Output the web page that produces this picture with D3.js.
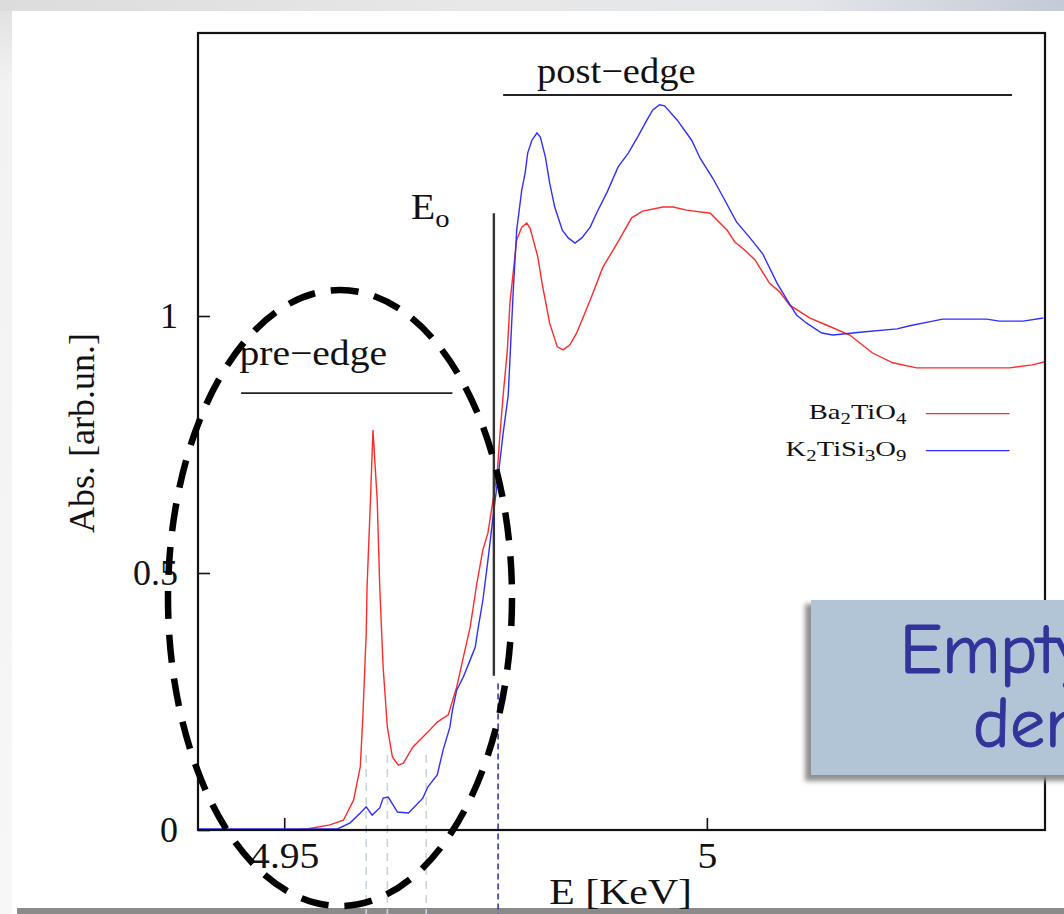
<!DOCTYPE html>
<html>
<head>
<meta charset="utf-8">
<script src="https://cdn.jsdelivr.net/npm/d3@7/dist/d3.min.js"></script>
<style>
  html, body { margin: 0; padding: 0; background: #fff; }
  svg { display: block; }
</style>
</head>
<body>
<svg id="chart" width="1064" height="914"></svg>
<script>
// X-ray absorption near the Ti K edge: two titanates
const redEnergy = [4.9398,4.9519,4.9527,4.9554,4.9570,4.9582,4.9590,4.9593,4.9597,4.9598,4.9602,4.9605,4.9610,4.9613,4.9617,4.9622,4.9628,4.9635,4.9641,4.9652,4.9669,4.9681,4.9694,4.9704,4.9712,4.9720,4.9728,4.9735,4.9741,4.9747,4.9752,4.9755,4.9759,4.9764,4.9767,4.9775,4.9781,4.9787,4.9791,4.9800,4.9805,4.9814,4.9823,4.9830,4.9838,4.9846,4.9862,4.9877,4.9894,4.9911,4.9924,4.9948,4.9960,4.9976,5.0004,5.0024,5.0033,5.0045,5.0057,5.0074,5.0086,5.0098,5.0122,5.0142,5.0169,5.0196,5.0220,5.0248,5.0358,5.0385,5.0400];
const redAbs = [0.000,0.001,0.002,0.010,0.019,0.058,0.123,0.220,0.383,0.473,0.642,0.778,0.642,0.473,0.317,0.200,0.142,0.126,0.130,0.161,0.189,0.210,0.224,0.278,0.337,0.395,0.481,0.545,0.578,0.642,0.695,0.765,0.846,0.934,1.025,1.148,1.173,1.181,1.170,1.115,1.064,0.986,0.940,0.934,0.944,0.967,1.031,1.095,1.142,1.191,1.204,1.212,1.212,1.206,1.200,1.167,1.144,1.128,1.109,1.064,1.047,1.021,0.996,0.982,0.963,0.928,0.909,0.899,0.899,0.905,0.911];

const blueEnergy = [4.9398,4.9563,4.9578,4.9590,4.9597,4.9604,4.9613,4.9617,4.9623,4.9634,4.9647,4.9664,4.9670,4.9681,4.9688,4.9696,4.9699,4.9704,4.9712,4.9720,4.9726,4.9729,4.9735,4.9741,4.9747,4.9753,4.9759,4.9765,4.9771,4.9775,4.9781,4.9785,4.9788,4.9793,4.9799,4.9803,4.9809,4.9814,4.9820,4.9829,4.9836,4.9844,4.9852,4.9862,4.9870,4.9882,4.9895,4.9907,4.9918,4.9929,4.9936,4.9944,4.9950,4.9965,4.9982,4.9992,5.0007,5.0019,5.0035,5.0051,5.0066,5.0083,5.0095,5.0106,5.0118,5.0136,5.0149,5.0161,5.0184,5.0225,5.0240,5.0267,5.0279,5.0331,5.0346,5.0374,5.0398];
const blueAbs = [0.002,0.002,0.014,0.033,0.045,0.029,0.043,0.062,0.064,0.035,0.033,0.062,0.084,0.107,0.156,0.200,0.233,0.272,0.298,0.331,0.356,0.389,0.447,0.525,0.609,0.687,0.772,0.846,1.051,1.167,1.245,1.278,1.317,1.342,1.356,1.348,1.309,1.259,1.212,1.167,1.152,1.142,1.152,1.173,1.202,1.241,1.290,1.317,1.348,1.381,1.401,1.411,1.409,1.381,1.342,1.307,1.268,1.232,1.183,1.152,1.121,1.064,1.031,1.002,0.986,0.967,0.963,0.965,0.969,0.975,0.981,0.990,0.994,0.994,0.990,0.990,0.996];

const xTicks = [4.95, 5];
const yTicks = [0, 0.5, 1];
const seriesColors = ["#ff2a2a", "#2f2fff"];

// Annotation positions in data units
const edgeEnergy = 4.9748;          // E_o marker
const edgeSpan = [0.30, 1.20];
const crossingEnergy = 4.9753;      // dashed line where the curves reach E_o
const preEdgePeaks = [4.9597, 4.9622, 4.9668];
const preEdgeRange = [4.9449, 4.9699];
const preEdgeLevel = 0.850;
const postEdgeRange = [4.9759, 5.0361];
const postEdgeLevel = 1.430;

const svg = d3.select("#chart");
const W = 1064, H = 914;
const margin = {left: 198, top: 33, right: 1045, bottom: 830};

// ---- slide backdrop ----
const defs = svg.append("defs");
const topGrad = defs.append("linearGradient").attr("id", "topband");
topGrad.append("stop").attr("offset", "0%").attr("stop-color", "#dcdcdc");
topGrad.append("stop").attr("offset", "45%").attr("stop-color", "#e8e8e8");
topGrad.append("stop").attr("offset", "75%").attr("stop-color", "#e4e6ea");
topGrad.append("stop").attr("offset", "100%").attr("stop-color", "#c4cad6");
const sideGrad = defs.append("linearGradient").attr("id", "sideband")
  .attr("x1", 0).attr("y1", 0).attr("x2", 0).attr("y2", 1);
sideGrad.append("stop").attr("offset", "0%").attr("stop-color", "#e2e2e2");
sideGrad.append("stop").attr("offset", "8%").attr("stop-color", "#f2f2f2");
sideGrad.append("stop").attr("offset", "100%").attr("stop-color", "#f7f7f7");
const shadow = defs.append("filter").attr("id", "shadow")
  .attr("x", "-10%").attr("y", "-10%").attr("width", "130%").attr("height", "130%");
shadow.append("feGaussianBlur").attr("stdDeviation", 2.5);

svg.append("rect").attr("width", W).attr("height", H).attr("fill", "#fff");
svg.append("rect").attr("x", 0).attr("y", 0).attr("width", W).attr("height", 11).attr("fill", "url(#topband)");
svg.append("rect").attr("x", 0).attr("y", 11).attr("width", 12).attr("height", H - 11).attr("fill", "url(#sideband)");
svg.append("rect").attr("x", 17).attr("y", 908).attr("width", W - 17).attr("height", 6).attr("fill", "#8a8a8a");

// ---- scales ----
const x = d3.scaleLinear().domain([4.9398, 5.0400]).range([margin.left, margin.right]);
const y = d3.scaleLinear().domain([0, 1.5506]).range([margin.bottom, margin.top]);

const font = "Liberation Serif, Times New Roman, serif";
const stretch = 1.1;   // the plot lettering is slightly wide

// text placed at (px, py) with horizontal widening
function wideText(px, py, size, sx, anchor) {
  return svg.append("text")
    .attr("transform", `translate(${px},${py}) scale(${sx},1)`)
    .attr("text-anchor", anchor || "start")
    .attr("font-family", font).attr("font-size", size).attr("fill", "#111");
}

// dashed guide lines (drawn below the frame)
svg.append("g").selectAll("line").data(preEdgePeaks).join("line")
  .attr("x1", d => x(d)).attr("x2", d => x(d))
  .attr("y1", y(0.146)).attr("y2", H)
  .attr("stroke", "#c9d5e3").attr("stroke-width", 1.6)
  .attr("stroke-dasharray", "8,6");
svg.append("line")
  .attr("x1", x(crossingEnergy)).attr("x2", x(crossingEnergy))
  .attr("y1", y(0.285)).attr("y2", H)
  .attr("stroke", "#3a3aa6").attr("stroke-width", 1.6)
  .attr("stroke-dasharray", "6,4");

// axes with inward ticks
const xAxis = d3.axisBottom(x).tickValues(xTicks).tickSize(-12).tickPadding(12)
  .tickFormat(d => d === 5 ? "5" : d3.format(".2f")(d));
const gx = svg.append("g").attr("transform", `translate(0,${margin.bottom})`).call(xAxis);
gx.select(".domain").remove();
gx.selectAll(".tick line").attr("stroke", "#111").attr("stroke-width", 1.6);
gx.selectAll(".tick text").attr("font-family", font).attr("font-size", 36).attr("fill", "#111")
  .attr("transform", `scale(${stretch},1)`)
  .attr("x", 0);

const yAxis = d3.axisLeft(y).tickValues(yTicks).tickSize(-12).tickPadding(20)
  .tickFormat(d => d === 0.5 ? "0.5" : String(d));
const gy = svg.append("g").attr("transform", `translate(${margin.left},0)`).call(yAxis);
gy.select(".domain").remove();
gy.selectAll(".tick line").attr("stroke", "#111").attr("stroke-width", 1.6);
gy.selectAll(".tick text").attr("font-family", font).attr("font-size", 36).attr("fill", "#111");

// curves
const line = d3.line().x(d => x(d[0])).y(d => y(d[1]));
const redData = redEnergy.map((e, i) => [e, redAbs[i]]);
const blueData = blueEnergy.map((e, i) => [e, blueAbs[i]]);
svg.append("path").datum(redData).attr("d", line)
  .attr("fill", "none").attr("stroke", seriesColors[0]).attr("stroke-width", 1.4);
svg.append("path").datum(blueData).attr("d", line)
  .attr("fill", "none").attr("stroke", seriesColors[1]).attr("stroke-width", 1.4);

// frame
svg.append("rect")
  .attr("x", margin.left).attr("y", margin.top)
  .attr("width", margin.right - margin.left).attr("height", margin.bottom - margin.top)
  .attr("fill", "none").attr("stroke", "#111").attr("stroke-width", 2.2);

// axis titles
wideText(x(4.9898), 904, 36, 1.16, "middle").text("E [KeV]");
svg.append("text").attr("transform", `translate(94,${433}) rotate(-90)`)
  .attr("text-anchor", "middle").attr("font-family", font).attr("font-size", 36).attr("fill", "#111")
  .text("Abs. [arb.un.]");

// E_o edge marker
svg.append("line")
  .attr("x1", x(edgeEnergy)).attr("x2", x(edgeEnergy))
  .attr("y1", y(edgeSpan[0])).attr("y2", y(edgeSpan[1]))
  .attr("stroke", "#333").attr("stroke-width", 2.4);
const eo = wideText(x(4.9650), y(1.188), 36, stretch);
eo.append("tspan").text("E");
eo.append("tspan").attr("dy", 8).attr("font-size", 26).text("o");

// pre-edge / post-edge ranges
svg.append("line").attr("x1", x(preEdgeRange[0])).attr("x2", x(preEdgeRange[1]))
  .attr("y1", y(preEdgeLevel)).attr("y2", y(preEdgeLevel))
  .attr("stroke", "#222").attr("stroke-width", 1.8);
wideText(x(4.9447), y(0.905), 36, stretch).text("pre\u2212edge");
svg.append("line").attr("x1", x(postEdgeRange[0])).attr("x2", x(postEdgeRange[1]))
  .attr("y1", y(postEdgeLevel)).attr("y2", y(postEdgeLevel))
  .attr("stroke", "#222").attr("stroke-width", 1.8);
wideText(x(4.9799), y(1.454), 36, 1.07).text("post\u2212edge");

// legend with chemical subscripts
const formulas = [
  [["Ba", false], ["2", true], ["TiO", false], ["4", true]],
  [["K", false], ["2", true], ["TiSi", false], ["3", true], ["O", false], ["9", true]]
];
const legendY = [0.800, 0.728];
formulas.forEach((parts, i) => {
  const t = wideText(x(5.0236), y(legendY[i]), 22, 1.3, "end");
  parts.forEach(([s, sub], j) => {
    const ts = t.append("tspan").text(s);
    if (sub) ts.attr("font-size", 16).attr("dy", 5);
    else if (j > 0) ts.attr("dy", -5);
  });
  svg.append("line").attr("x1", x(5.0259)).attr("x2", x(5.0358))
    .attr("y1", y(legendY[i] + 0.010)).attr("y2", y(legendY[i] + 0.010))
    .attr("stroke", seriesColors[i]).attr("stroke-width", 1.4);
});

// callout box
svg.append("rect").attr("x", 805).attr("y", 604).attr("width", 270).attr("height", 177)
  .attr("fill", "#8f8f8f").attr("filter", "url(#shadow)");
svg.append("rect").attr("x", 811).attr("y", 600).attr("width", 260).attr("height", 175)
  .attr("fill", "#b1c5d7");
const calloutFont = "Comic Sans MS, Comic Neue, Lato, DejaVu Sans, sans-serif";
svg.append("text").attr("x", 900).attr("y", 673)
  .attr("font-family", calloutFont).attr("font-size", 70).attr("fill", "#33349a")
  .attr("stroke", "#33349a").attr("stroke-width", 1).text("Empty");
svg.append("text").attr("x", 973).attr("y", 747)
  .attr("font-family", calloutFont).attr("font-size", 70).attr("fill", "#33349a")
  .attr("stroke", "#33349a").attr("stroke-width", 1).text("der");

// dashed ellipse around the pre-edge region
svg.append("ellipse").attr("cx", 340).attr("cy", 598).attr("rx", 172).attr("ry", 308)
  .attr("fill", "none").attr("stroke", "#000").attr("stroke-width", 6.5)
  .attr("stroke-dasharray", "28,16");
</script>
</body>
</html>
